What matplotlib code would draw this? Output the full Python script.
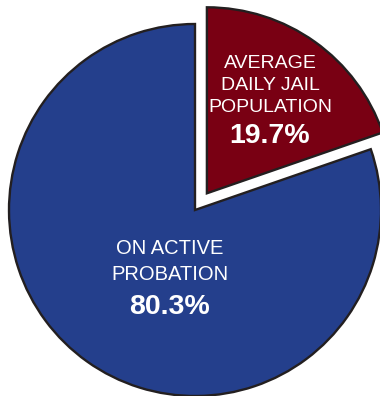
import matplotlib
matplotlib.use("Agg")
import matplotlib.pyplot as plt

categories = ["AVERAGE\nDAILY JAIL\nPOPULATION", "ON ACTIVE\nPROBATION"]
values = [19.7, 80.3]
pct_labels = ["19.7%", "80.3%"]
colors = ["#790013", "#243f8c"]

W, H = 380, 396
fig = plt.figure(figsize=(W / 100, H / 100), dpi=100)
ax = fig.add_axes([0, 0, 1, 1])

cx, cy, r = 195, H - 210, 186
ax.pie(values, colors=colors, startangle=90, counterclock=False,
       explode=[20.5, 0], center=(cx, cy), radius=r, frame=True,
       wedgeprops=dict(edgecolor="#231f20", linewidth=1.7))
ax.set_xlim(0, W)
ax.set_ylim(0, H)
ax.set_aspect("equal")
ax.axis("off")

font = "Liberation Sans"
# red slice label
for i, line in enumerate(categories[0].split("\n")):
    ax.text(270, H - (64 + 22 * i), line, color="white", fontsize=14,
            family=font, ha="center", va="center")
ax.text(270, H - 136, pct_labels[0], color="white", fontsize=20.5,
        family=font, weight="bold", ha="center", va="center")
# blue slice label
for i, line in enumerate(categories[1].split("\n")):
    ax.text(170, H - (248 + 26 * i), line, color="white", fontsize=14.5,
            family=font, ha="center", va="center")
ax.text(170, H - 307, pct_labels[1], color="white", fontsize=20.5,
        family=font, weight="bold", ha="center", va="center")

fig.savefig("out.png", dpi=100)
